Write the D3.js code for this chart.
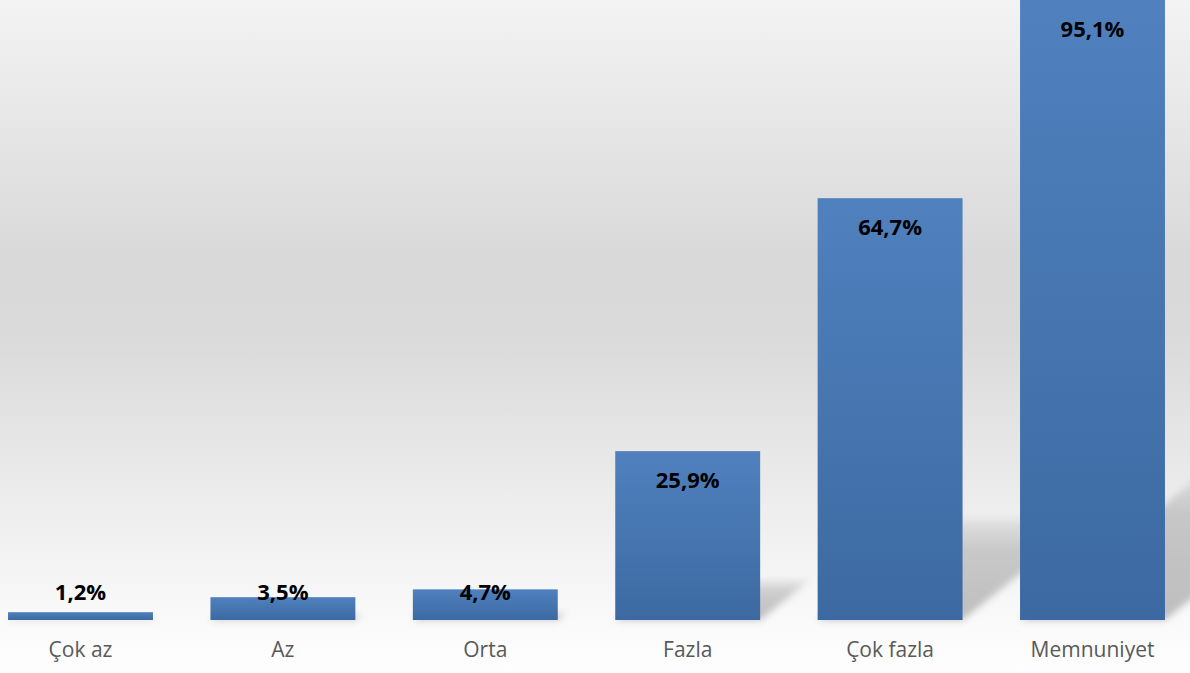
<!DOCTYPE html>
<html>
<head>
<meta charset="utf-8">
<script src="https://cdn.jsdelivr.net/npm/d3@7"></script>
<style>
    html, body {margin: 0; padding: 0; background: #fff;}
    svg {display: block;}
</style>
</head>
<body>
<div id="chart"></div>
<script>
var categories = ["Çok az", "Az", "Orta", "Fazla", "Çok fazla", "Memnuniyet"];
var values = [1.2, 3.5, 4.7, 25.9, 64.7, 95.1];
var valueLabels = ["1,2%", "3,5%", "4,7%", "25,9%", "64,7%", "95,1%"];

var width = 1190,
    height = 673,
    baseY = 620;

var svg = d3.select("#chart").append("svg")
        .attr("width", width)
        .attr("height", height);

var defs = svg.append("defs");

// background: light at top, grey in the middle, almost white at the bottom
var bg = defs.append("linearGradient")
        .attr("id", "bg")
        .attr("x1", 0).attr("y1", 0).attr("x2", 0).attr("y2", 1);
[[0, "#f3f3f3"], [0.38, "#d9d9d9"], [0.5, "#dadada"], [0.75, "#ededed"], [0.9, "#f8f8f8"], [1, "#fefefe"]]
    .forEach(function (s) { bg.append("stop").attr("offset", s[0]).attr("stop-color", s[1]); });

var barGrad = defs.append("linearGradient")
        .attr("id", "bar")
        .attr("x1", 0).attr("y1", 0).attr("x2", 0).attr("y2", 1);
barGrad.append("stop").attr("offset", 0).attr("stop-color", "#5081be");
barGrad.append("stop").attr("offset", 1).attr("stop-color", "#3c69a1");

var shadowGrad = defs.append("linearGradient")
        .attr("id", "shadow")
        .attr("x1", 0).attr("y1", 1).attr("x2", 0).attr("y2", 0);
shadowGrad.append("stop").attr("offset", 0).attr("stop-color", "#000").attr("stop-opacity", 0.24);
shadowGrad.append("stop").attr("offset", 0.7).attr("stop-color", "#000").attr("stop-opacity", 0.17);
shadowGrad.append("stop").attr("offset", 1).attr("stop-color", "#000").attr("stop-opacity", 0.05);

defs.append("filter")
        .attr("id", "blur")
        .attr("x", "-20%").attr("y", "-20%").attr("width", "140%").attr("height", "140%")
    .append("feGaussianBlur")
        .attr("stdDeviation", 3.5);

svg.append("rect")
        .attr("width", width)
        .attr("height", height)
        .attr("fill", "url(#bg)");

var x = d3.scaleBand()
        .domain(categories)
        .range([-20.7, 1193.7])
        .paddingInner(0.284)
        .paddingOuter(0.142);

var y = d3.scaleLinear()
        .domain([0, 95.1])
        .range([baseY, 0]);

var data = categories.map(function (c, i) {
    return {cat: c, value: values[i], label: valueLabels[i]};
});

// perspective shadows thrown up and to the right of every bar
var shadowScale = 0.24,
    skew = 1.25;
svg.append("g")
        .attr("class", "shadows")
        .attr("filter", "url(#blur)")
    .selectAll("path")
        .data(data)
        .enter()
    .append("path")
        .attr("fill", "url(#shadow)")
        .attr("d", function (d) {
            var x0 = x(d.cat), x1 = x0 + x.bandwidth();
            var h = (baseY - y(d.value)) * shadowScale;
            return "M" + x0 + "," + baseY + "L" + x1 + "," + baseY +
                "L" + (x1 + skew * h) + "," + (baseY - h) +
                "L" + (x0 + skew * h) + "," + (baseY - h) + "Z";
        });

svg.append("g")
        .attr("class", "bars")
    .selectAll("rect")
        .data(data)
        .enter()
    .append("rect")
        .attr("x", function (d) { return x(d.cat); })
        .attr("y", function (d) { return y(d.value); })
        .attr("width", x.bandwidth())
        .attr("height", function (d) { return baseY - y(d.value); })
        .attr("fill", "url(#bar)");

// value labels sit inside the top of the bar, but never lower than the base line allows
svg.append("g")
        .attr("class", "labels")
    .selectAll("text")
        .data(data)
        .enter()
    .append("text")
        .attr("x", function (d) { return x(d.cat) + x.bandwidth() / 2; })
        .attr("y", function (d) { return Math.min(y(d.value) + 37, baseY - 20); })
        .attr("text-anchor", "middle")
        .attr("font-family", "'Open Sans', sans-serif")
        .attr("font-weight", "bold")
        .attr("font-size", 22)
        .attr("fill", "#000")
        .text(function (d) { return d.label; });

var axis = svg.append("g")
        .attr("transform", "translate(0," + baseY + ")")
        .call(d3.axisBottom(x).tickSize(0).tickPadding(0));

axis.select(".domain").remove();
axis.selectAll("text")
        .attr("dy", null)
        .attr("y", 37)
        .attr("font-family", "'Open Sans', sans-serif")
        .attr("font-size", 21)
        .attr("fill", "#595959");
</script>
</body>
</html>
